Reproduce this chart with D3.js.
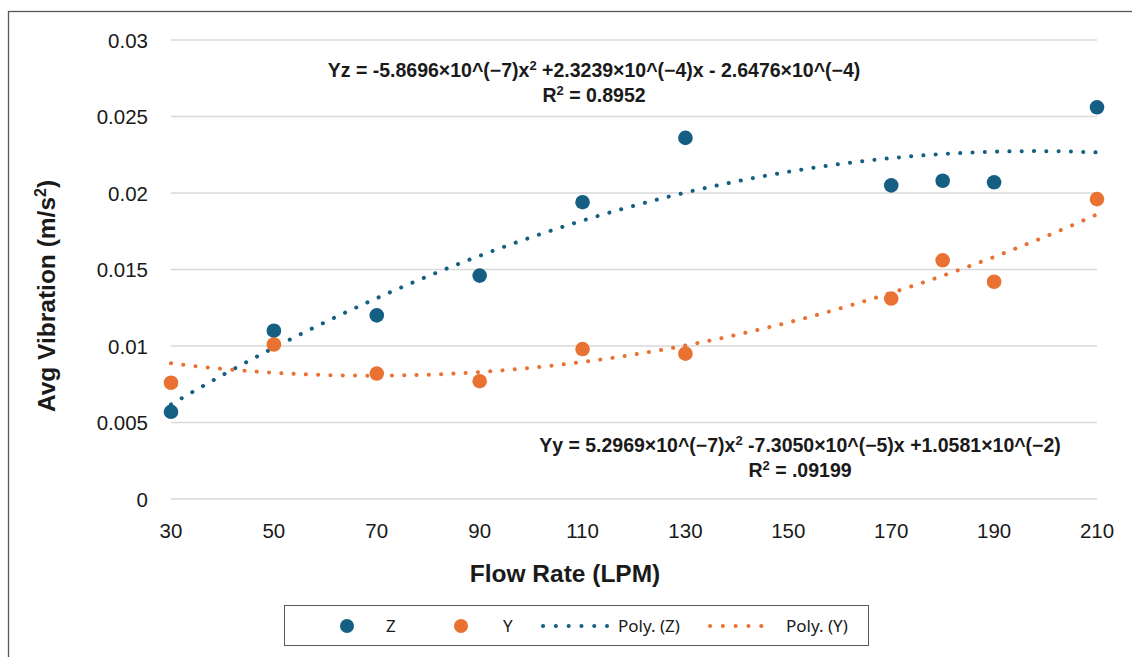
<!DOCTYPE html>
<html>
<head>
<meta charset="utf-8">
<script src="https://cdn.jsdelivr.net/npm/d3@7"></script>
<style>
  html, body { margin: 0; padding: 0; background: #fff; }
  svg { display: block; }
</style>
</head>
<body>
<svg id="chart" width="1132" height="657"></svg>
<script>
// ---- Data ----
const flowRates = [30, 50, 70, 90, 110, 130, 170, 180, 190, 210];
const zValues   = [0.0057, 0.0110, 0.0120, 0.0146, 0.0194, 0.0236, 0.0205, 0.0208, 0.0207, 0.0256];
const yValues   = [0.0076, 0.0101, 0.0082, 0.0077, 0.0098, 0.0095, 0.0131, 0.0156, 0.0142, 0.0196];
const xTicks = [30, 50, 70, 90, 110, 130, 150, 170, 190, 210];
const yTicks = [0, 0.005, 0.01, 0.015, 0.02, 0.025, 0.03];
const yTickLabels = ["0", "0.005", "0.01", "0.015", "0.02", "0.025", "0.03"];
// polynomial trendline coefficients [c2, c1, c0] as shown on chart
const zPolyCoef = [-5.8696e-7, 2.3239e-4, -2.6476e-4];
const yPolyCoef = [5.2969e-7, -7.3050e-5, 1.0581e-2];
const zEquation = ["Yz = -5.8696×10^(−7)x", "2", " +2.3239×10^(−4)x - 2.6476×10^(−4)"];
const zR2 = "0.8952";
const yEquation = ["Yy = 5.2969×10^(−7)x", "2", " -7.3050×10^(−5)x +1.0581×10^(−2)"];
const yR2 = ".09199";
const legendLabels = ["Z", "Y", "Poly. (Z)", "Poly. (Y)"];

const blue = "#156082";
const orange = "#E97132";

const svg = d3.select("#chart");

// outer frame (clipped by the viewport at right/bottom)
svg.append("rect").attr("x", 8.5).attr("y", 11.5).attr("width", 1200).attr("height", 700)
  .attr("fill", "none").attr("stroke", "#595959").attr("stroke-width", 1.3);

const x = d3.scaleLinear().domain([30, 210]).range([171, 1097]);
const y = d3.scaleLinear().domain([0, 0.03]).range([499, 40]);

// gridlines
svg.append("g").selectAll("line").data(yTicks).join("line")
  .attr("x1", x(30)).attr("x2", x(210))
  .attr("y1", d => y(d)).attr("y2", d => y(d))
  .attr("stroke", "#d9d9d9").attr("stroke-width", 1.5);

// y tick labels
svg.append("g").selectAll("text").data(yTicks).join("text")
  .attr("x", 148).attr("y", d => y(d) + 7.5)
  .attr("text-anchor", "end")
  .attr("font-family", "Liberation Sans, Arial, sans-serif")
  .attr("font-size", 20.5).attr("fill", "#1a1a1a")
  .text((d, i) => yTickLabels[i]);

// x tick labels
svg.append("g").selectAll("text").data(xTicks).join("text")
  .attr("x", d => x(d)).attr("y", 538)
  .attr("text-anchor", "middle")
  .attr("font-family", "Liberation Sans, Arial, sans-serif")
  .attr("font-size", 20.5).attr("fill", "#1a1a1a")
  .text(d => d);

// axis titles
svg.append("text").attr("x", 565).attr("y", 582)
  .attr("text-anchor", "middle")
  .attr("font-family", "Liberation Sans, Arial, sans-serif")
  .attr("font-weight", "bold").attr("font-size", 24.5).attr("fill", "#1a1a1a")
  .text("Flow Rate (LPM)");

const yt = svg.append("text")
  .attr("transform", "translate(55,296) rotate(-90)")
  .attr("text-anchor", "middle")
  .attr("font-family", "Liberation Sans, Arial, sans-serif")
  .attr("font-weight", "bold").attr("font-size", 24.5).attr("fill", "#1a1a1a");
yt.append("tspan").text("Avg Vibration (m/s");
yt.append("tspan").attr("dy", -9).attr("font-size", 16).text("2");
yt.append("tspan").attr("dy", 9).text(")");

// trendlines
const xs = d3.range(30, 210.001, 1);
const poly = c => v => c[0] * v * v + c[1] * v + c[2];
const line = d3.line().x(d => x(d[0])).y(d => y(d[1])).curve(d3.curveLinear);
function trend(coef, color) {
  const f = poly(coef);
  svg.append("path").datum(xs.map(v => [v, f(v)]))
    .attr("d", line).attr("fill", "none").attr("stroke", color)
    .attr("stroke-width", 4).attr("stroke-linecap", "round")
    .attr("stroke-dasharray", "0.1 12.2");
}
trend(zPolyCoef, blue);
trend(yPolyCoef, orange);

// points
function points(vals, color) {
  svg.append("g").selectAll("circle").data(vals).join("circle")
    .attr("cx", (d, i) => x(flowRates[i])).attr("cy", d => y(d))
    .attr("r", 7.3).attr("fill", color);
}
points(zValues, blue);
points(yValues, orange);

// equations
function equation(cx, cy, eq, r2) {
  const t = svg.append("text").attr("x", cx).attr("y", cy)
    .attr("text-anchor", "middle")
    .attr("font-family", "Liberation Sans, Arial, sans-serif")
    .attr("font-weight", "bold").attr("font-size", 19.5).attr("fill", "#1a1a1a");
  t.append("tspan").text(eq[0]);
  t.append("tspan").attr("dy", -7).attr("font-size", 13).text(eq[1]);
  t.append("tspan").attr("dy", 7).text(eq[2]);
  const t2 = svg.append("text").attr("x", cx).attr("y", cy + 25)
    .attr("text-anchor", "middle")
    .attr("font-family", "Liberation Sans, Arial, sans-serif")
    .attr("font-weight", "bold").attr("font-size", 19.5).attr("fill", "#1a1a1a");
  t2.append("tspan").text("R");
  t2.append("tspan").attr("dy", -7).attr("font-size", 13).text("2");
  t2.append("tspan").attr("dy", 7).text(" = " + r2);
}
equation(594, 77, zEquation, zR2);
equation(800, 452, yEquation, yR2);

// legend
const lg = svg.append("g");
lg.append("rect").attr("x", 284.5).attr("y", 605.5).attr("width", 584).attr("height", 40)
  .attr("fill", "#fff").attr("stroke", "#595959").attr("stroke-width", 1);
const legFont = "Noto Sans, Open Sans, sans-serif";
const ly = 626;
lg.append("circle").attr("cx", 347).attr("cy", ly).attr("r", 7).attr("fill", blue);
lg.append("text").attr("x", 386).attr("y", ly + 6).attr("font-family", legFont).attr("font-size", 17).attr("fill", "#1a1a1a").text(legendLabels[0]);
lg.append("circle").attr("cx", 461).attr("cy", ly).attr("r", 7).attr("fill", orange);
lg.append("text").attr("x", 503).attr("y", ly + 6).attr("font-family", legFont).attr("font-size", 17).attr("fill", "#1a1a1a").text(legendLabels[1]);
function legDots(x0, x1, color) {
  lg.append("line").attr("x1", x0).attr("x2", x1).attr("y1", ly).attr("y2", ly)
    .attr("stroke", color).attr("stroke-width", 4).attr("stroke-linecap", "round")
    .attr("stroke-dasharray", "0.1 12.7");
}
legDots(543, 607, blue);
lg.append("text").attr("x", 618).attr("y", ly + 6).attr("font-family", legFont).attr("font-size", 17).attr("fill", "#1a1a1a").text(legendLabels[2]);
legDots(710, 774, orange);
lg.append("text").attr("x", 786).attr("y", ly + 6).attr("font-family", legFont).attr("font-size", 17).attr("fill", "#1a1a1a").text(legendLabels[3]);
</script>
</body>
</html>
